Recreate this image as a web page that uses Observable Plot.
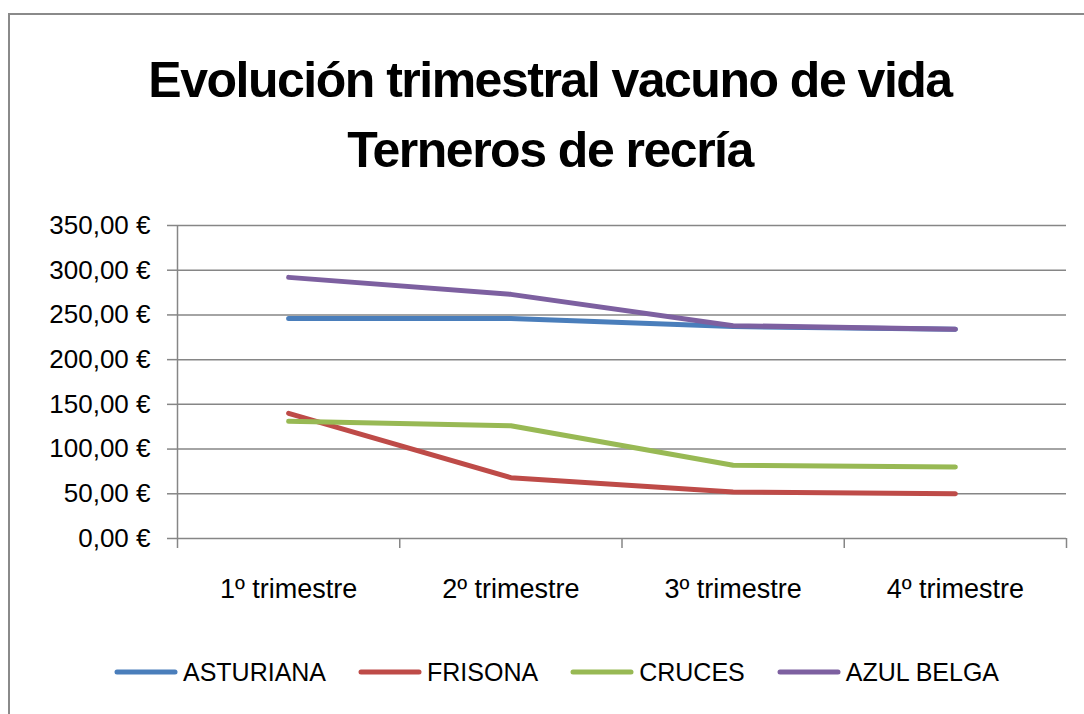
<!DOCTYPE html>
<html>
<head>
<meta charset="utf-8">
<script src="https://cdn.jsdelivr.net/npm/d3@7"></script>
<script src="https://cdn.jsdelivr.net/npm/@observablehq/plot@0.6"></script>
<style>
  html, body { margin: 0; padding: 0; background: #fff; width: 1084px; height: 714px; overflow: hidden; }
  body { position: relative; font-family: "Liberation Sans", Arial, sans-serif; }
  #frame { position: absolute; left: 8px; top: 13px; width: 1090px; height: 720px; border: 2px solid #8a8a8a; box-sizing: border-box; }
  #title { position: absolute; left: 8px; top: 45px; width: 1084px; text-align: center; font-family: "Liberation Sans", Arial, sans-serif; font-weight: bold; font-size: 50px; letter-spacing: -1.5px; line-height: 70px; color: #000; }
  #chart { position: absolute; left: 0; top: 200px; }
  #legend { position: absolute; left: 0; top: 657px; width: 1113px; display: flex; justify-content: center; gap: 32px; font-size: 25px; line-height: 30px; color: #000; }
  .item { display: flex; align-items: center; gap: 5px; }
  .item svg { display: block; }
</style>
</head>
<body>
<div id="frame"></div>
<div id="title">Evolución trimestral vacuno de vida<br>Terneros de recría</div>
<div id="chart"></div>
<div id="legend"></div>
<script>
const categories = ["1º trimestre", "2º trimestre", "3º trimestre", "4º trimestre"];
const seriesNames = ["ASTURIANA", "FRISONA", "CRUCES", "AZUL BELGA"];
const seriesColors = ["#4a7ebb", "#be4b48", "#98b954", "#7d60a0"];
const asturiana = [246, 246, 237, 234];
const frisona = [140, 68, 52, 50];
const cruces = [131, 126, 82, 80];
const azulBelga = [292, 273, 238, 234];
const yTicks = [0, 50, 100, 150, 200, 250, 300, 350];

const seriesValues = [asturiana, frisona, cruces, azulBelga];
const data = [];
seriesNames.forEach((name, s) => {
  seriesValues[s].forEach((v, i) => data.push({series: name, idx: i + 1, value: v}));
});
const centers = categories.map((c, i) => i + 1);
const boundaries = d3.range(0.5, categories.length + 1, 1);
const fmt = d => d.toFixed(2).replace(".", ",") + " €";
const grey = "#868686";

const plot = Plot.plot({
  width: 1084,
  height: 440,
  marginLeft: 177,
  marginRight: 18,
  marginTop: 25,
  marginBottom: 102,
  style: {fontFamily: "'Liberation Sans', Arial, sans-serif", color: "#000", background: "transparent", overflow: "visible"},
  x: {domain: [0.5, categories.length + 0.5]},
  y: {domain: [0, 350]},
  color: {domain: seriesNames, range: seriesColors},
  marks: [
    Plot.ruleY(yTicks.filter(d => d > 0), {stroke: grey, strokeWidth: 1.5}),
    Plot.axisY({ticks: yTicks, tickSize: 10, tickPadding: 17, tickFormat: fmt, fontSize: 26, stroke: grey, strokeWidth: 1.5, label: null}),
    Plot.ruleX([0.5], {y1: 0, y2: 350, stroke: grey, strokeWidth: 1.5}),
    Plot.ruleY([0], {stroke: grey, strokeWidth: 1.5}),
    Plot.axisX({ticks: boundaries, tickSize: 10, tickFormat: () => "", stroke: grey, strokeWidth: 1.5, label: null}),
    Plot.axisX({ticks: centers, tickSize: 0, tickPadding: 40, tickFormat: d => categories[d - 1], fontSize: 27, label: null}),
    Plot.line(data, {x: "idx", y: "value", z: "series", stroke: "series", strokeWidth: 5, strokeLinecap: "round", strokeLinejoin: "round"})
  ]
});
document.getElementById("chart").appendChild(plot);

const legend = document.getElementById("legend");
seriesNames.forEach((name, i) => {
  const item = document.createElement("div");
  item.className = "item";
  item.innerHTML = `<svg width="64" height="10"><line x1="3" y1="5" x2="61" y2="5" stroke="${seriesColors[i]}" stroke-width="5" stroke-linecap="round"/></svg><span>${name}</span>`;
  legend.appendChild(item);
});
</script>
</body>
</html>
